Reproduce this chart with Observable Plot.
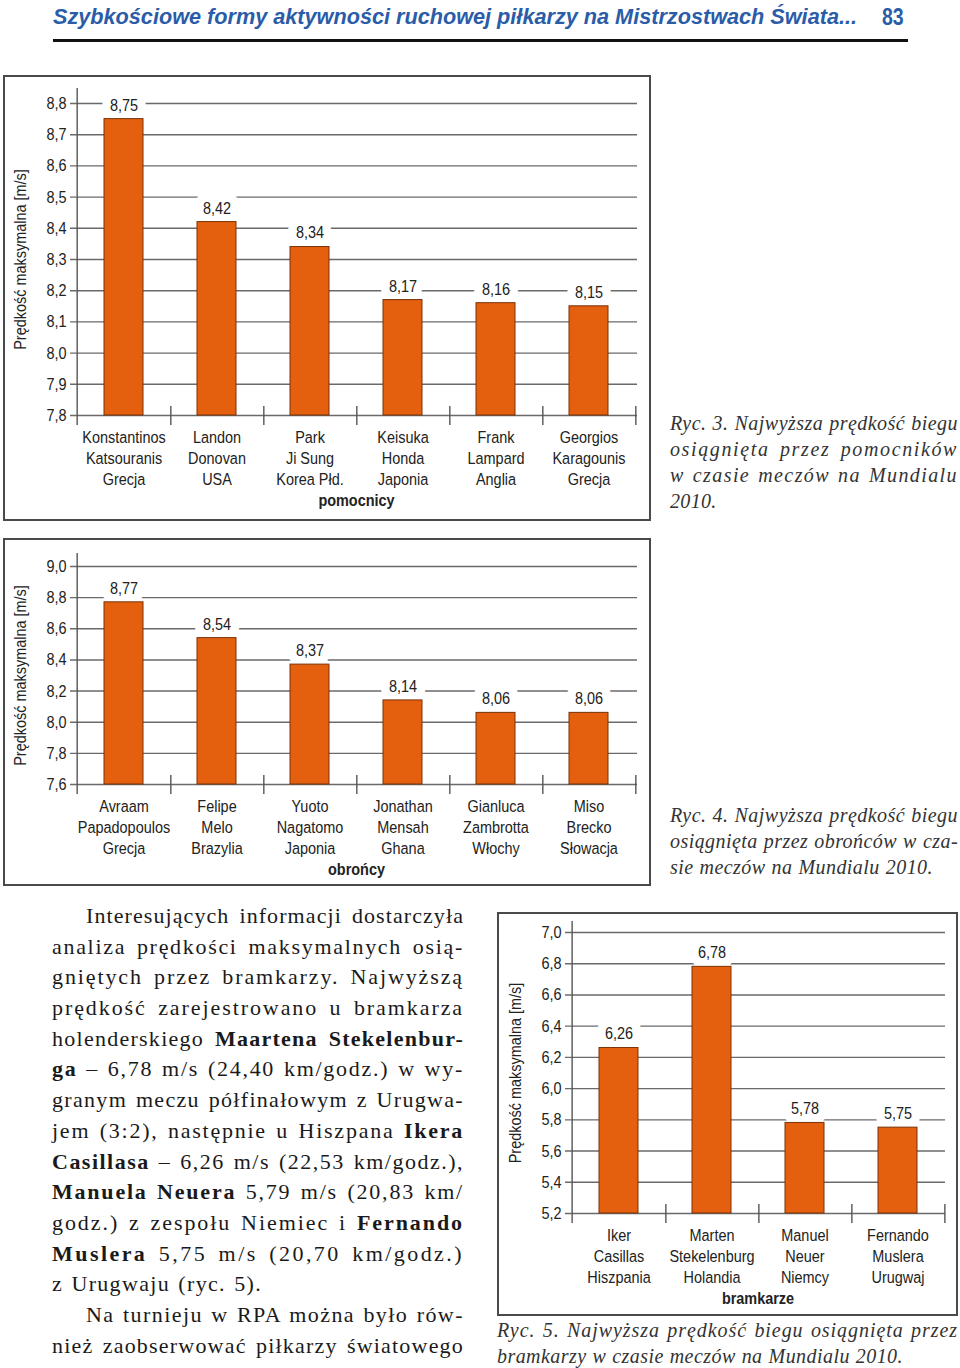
<!DOCTYPE html>
<html><head><meta charset="utf-8">
<script src="https://cdn.jsdelivr.net/npm/d3@7"></script>
<script src="https://cdn.jsdelivr.net/npm/@observablehq/plot@0.6"></script>
<style>
html,body{margin:0;padding:0;background:#fff}
body{width:960px;height:1368px;position:relative;overflow:hidden}
.box{position:absolute;border:2px solid #4a4a4a;box-sizing:border-box;background:#fff}
.box svg{position:absolute;left:0;top:0;overflow:visible}
#hdr{position:absolute;left:53px;top:3px;font-family:'Liberation Sans',sans-serif;font-style:italic;font-weight:bold;font-size:22px;color:#2a5ca8;white-space:nowrap;transform-origin:0 0;line-height:28px}
#pg{position:absolute;left:882px;top:3px;font-family:'Liberation Sans',sans-serif;font-weight:bold;font-size:23px;color:#2a5ca8;line-height:28px;transform:scaleX(0.85);transform-origin:0 0}
#hline{position:absolute;left:53px;top:39px;width:855px;height:3px;background:#111}
.cap{position:absolute;font-family:'Liberation Serif','Times New Roman',serif;font-style:italic;font-size:20px;color:#333}
.cap div{white-space:nowrap;text-align:justify;text-align-last:justify;height:26px;line-height:26px}
.body{position:absolute;left:52px;top:901px;width:412px;font-family:'Liberation Serif','Times New Roman',serif;font-size:22px;color:#1a1a1a}
.body div{white-space:nowrap;text-align:justify;text-align-last:justify;height:30.7px;line-height:30.7px}
.body div.ind{margin-left:34px}
</style></head><body>
<div id="hdr">Szybkościowe formy aktywności ruchowej piłkarzy na Mistrzostwach Świata...</div>
<div id="pg">83</div>
<div id="hline"></div>

<div class="box" id="box1" style="left:3px;top:75px;width:648px;height:446px"></div>
<div class="box" id="box2" style="left:3px;top:538px;width:648px;height:348px"></div>
<div class="box" id="box3" style="left:497px;top:912px;width:461px;height:404px"></div>

<div class="cap" style="left:670px;top:410px;width:288px">
<div>Ryc. 3. Najwyższa prędkość biegu</div>
<div>osiągnięta przez pomocników</div>
<div>w czasie meczów na Mundialu</div>
<div data-w="47">2010.</div>
</div>
<div class="cap" style="left:670px;top:802px;width:288px">
<div>Ryc. 4. Najwyższa prędkość biegu</div>
<div>osiągnięta przez obrońców w cza-</div>
<div data-w="263">sie meczów na Mundialu 2010.</div>
</div>
<div class="cap" style="left:497px;top:1317px;width:461px">
<div>Ryc. 5. Najwyższa prędkość biegu osiągnięta przez</div>
<div data-w="406">bramkarzy w czasie meczów na Mundialu 2010.</div>
</div>

<div class="body">
<div class="ind">Interesujących informacji dostarczyła</div>
<div>analiza prędkości maksymalnych osią-</div>
<div>gniętych przez bramkarzy. Najwyższą</div>
<div>prędkość zarejestrowano u bramkarza</div>
<div>holenderskiego <b>Maartena Stekelenbur-</b></div>
<div><b>ga</b> – 6,78 m/s (24,40 km/godz.) w wy-</div>
<div>granym meczu półfinałowym z Urugwa-</div>
<div>jem (3:2), następnie u Hiszpana <b>Ikera</b></div>
<div><b>Casillasa</b> – 6,26 m/s (22,53 km/godz.),</div>
<div><b>Manuela Neuera</b> 5,79 m/s (20,83 km/</div>
<div>godz.) z zespołu Niemiec i <b>Fernando</b></div>
<div><b>Muslera</b> 5,75 m/s (20,70 km/godz.)</div>
<div data-w="210">z Urugwaju (ryc. 5).</div>
<div class="ind">Na turnieju w RPA można było rów-</div>
<div>nież zaobserwować piłkarzy światowego</div>
</div>

<script>
// ---- data ----
const midNames = ["Konstantinos\nKatsouranis\nGrecja", "Landon\nDonovan\nUSA", "Park\nJi Sung\nKorea Płd.", "Keisuka\nHonda\nJaponia", "Frank\nLampard\nAnglia", "Georgios\nKaragounis\nGrecja"];
const midValues = [8.75, 8.42, 8.34, 8.17, 8.16, 8.15];
const midTicks = [7.8, 7.9, 8.0, 8.1, 8.2, 8.3, 8.4, 8.5, 8.6, 8.7, 8.8];

const defNames = ["Avraam\nPapadopoulos\nGrecja", "Felipe\nMelo\nBrazylia", "Yuoto\nNagatomo\nJaponia", "Jonathan\nMensah\nGhana", "Gianluca\nZambrotta\nWłochy", "Miso\nBrecko\nSłowacja"];
const defValues = [8.77, 8.54, 8.37, 8.14, 8.06, 8.06];
const defTicks = [7.6, 7.8, 8.0, 8.2, 8.4, 8.6, 8.8, 9.0];

const gkNames = ["Iker\nCasillas\nHiszpania", "Marten\nStekelenburg\nHolandia", "Manuel\nNeuer\nNiemcy", "Fernando\nMuslera\nUrugwaj"];
const gkValues = [6.26, 6.78, 5.78, 5.75];
const gkTicks = [5.2, 5.4, 5.6, 5.8, 6.0, 6.2, 6.4, 6.6, 6.8, 7.0];

const yTitle = "Prędkość maksymalna [m/s]";

// ---- drawing ----
const FONT = "'Liberation Sans',sans-serif";
const NARROW = 0.85; // emulate a narrow sans face
const fmtTick = v => v.toFixed(1).replace(".", ",");
const fmtVal = v => v.toFixed(2).replace(".", ",");

function narrowTexts(svg) {
  svg.querySelectorAll("text").forEach(t => {
    const tr = t.getAttribute("transform");
    if (tr) t.setAttribute("transform", tr + ` scale(${NARROW},1)`);
  });
  return svg;
}

function chart({names, values, ticks, group, width, height, mt, mb, ml, mr, axTop}) {
  const base = ticks[0];
  const data = names.map((n, i) => ({name: n, value: values[i]}));
  const bw = (width - ml - mr) / names.length;
  const plotH = height - mt - mb;
  const svg = Plot.plot({
    width, height,
    marginTop: mt, marginBottom: mb, marginLeft: ml, marginRight: mr,
    style: {fontFamily: FONT, fontSize: "17px", color: "#222", background: "transparent", overflow: "visible"},
    x: {domain: names, padding: 0, axis: null},
    y: {domain: [base, ticks[ticks.length - 1]], axis: null},
    marks: [
      Plot.ruleY(ticks, {stroke: "#6a6a6a", strokeWidth: 1.4, insetLeft: -5}),
      Plot.text(data, {x: "name", y: "value", dy: -14, text: d => fmtVal(d.value), fill: "white", stroke: "white", strokeWidth: 20, strokeLinejoin: "round"}),
      Plot.barY(data, {x: "name", y1: base, y2: "value", fill: "#e4600f", stroke: "#7a3208", strokeWidth: 1, insetLeft: 27, insetRight: 27}),
      Plot.ruleX([names[0]], {dx: -bw / 2, insetTop: -axTop, insetBottom: -10, stroke: "#555", strokeWidth: 1.4}),
      Plot.ruleX(names, {dx: bw / 2, insetTop: plotH - 9, insetBottom: -10, stroke: "#555", strokeWidth: 1.4}),
      Plot.text(ticks, {y: d => d, frameAnchor: "left", dx: -9, textAnchor: "end", text: fmtTick, fill: "#222"}),
      Plot.text(data, {x: "name", y: "value", dy: -14, text: d => fmtVal(d.value), fill: "#222"}),
      Plot.text(data, {x: "name", text: "name", frameAnchor: "bottom", dy: 13, lineAnchor: "top", lineHeight: 1.235, fill: "#222"}),
      Plot.text([group], {frameAnchor: "bottom", dy: 85, lineAnchor: "middle", fontWeight: "bold", fill: "#222"}),
      Plot.text([yTitle], {frameAnchor: "left", rotate: -90, dx: -55, textAnchor: "middle", lineAnchor: "middle", fill: "#222"})
    ]
  });
  return narrowTexts(svg);
}

document.getElementById("box1").append(chart({names: midNames, values: midValues, ticks: midTicks, group: "pomocnicy",
  width: 644, height: 442, mt: 26, mb: 104, ml: 70, mr: 12, axTop: 15}));
document.getElementById("box2").append(chart({names: defNames, values: defValues, ticks: defTicks, group: "obrońcy",
  width: 644, height: 344, mt: 26, mb: 100, ml: 70, mr: 12, axTop: 13}));
document.getElementById("box3").append(chart({names: gkNames, values: gkValues, ticks: gkTicks, group: "bramkarze",
  width: 457, height: 400, mt: 18, mb: 101, ml: 71, mr: 11, axTop: 11}));

// fit header text to its span
const hdr = document.getElementById("hdr");
hdr.style.transform = `scaleX(${804 / hdr.getBoundingClientRect().width})`;

// typeset justified lines: fill each line mostly by letter spacing, then justify the rest
document.querySelectorAll(".cap div, .body div").forEach(div => {
  div.innerHTML = `<span>${div.innerHTML}</span>`;
  if (div.dataset.w) div.style.width = div.dataset.w + "px";
  div.style.textAlign = "left";
  div.style.textAlignLast = "left";
  const target = div.getBoundingClientRect().width;
  const natural = div.firstElementChild.getBoundingClientRect().width;
  const n = div.textContent.length;
  const ls = (target - natural) / n;
  div.style.letterSpacing = (ls * 0.85).toFixed(2) + "px";
  div.style.textAlign = "";
  div.style.textAlignLast = "";
});
</script>
</body></html>
